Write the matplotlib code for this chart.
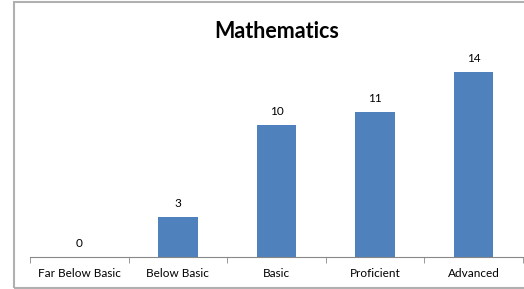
import matplotlib
matplotlib.use("Agg")
import matplotlib.pyplot as plt
from matplotlib.patches import Rectangle
import numpy as np

categories = ["Far Below Basic", "Below Basic", "Basic", "Proficient", "Advanced"]
values = [0, 3, 10, 11, 14]
title = "Mathematics"

plt.rcParams['font.family'] = ['Lato', 'DejaVu Sans']

fig = plt.figure(figsize=(5.24, 2.89), dpi=100)
ax = fig.add_axes([30/524, 32/289, 493/524, 211/289])

x = np.arange(len(categories))
ax.bar(x, values, width=0.4, color="#4F81BD", zorder=2)
for xi, v in zip(x, values):
    ax.annotate(str(v), (xi, v), xytext=(0, 6), textcoords="offset points",
                ha="center", va="bottom", fontsize=8.5, color="black")

ax.set_xlim(-0.5, len(categories) - 0.5)
ax.set_ylim(0, 16)
ax.set_yticks([])
ax.set_xticks(x)
ax.set_xticklabels(categories, fontsize=8.5)
ax.tick_params(axis='x', length=0, pad=8)
ax.set_xticks(np.arange(-0.5, len(categories)), minor=True)
ax.tick_params(axis='x', which='minor', length=4, color="#888888", direction='out')
for s in ["top", "right", "left"]:
    ax.spines[s].set_visible(False)
ax.spines["bottom"].set_color("#888888")
ax.spines["bottom"].set_linewidth(0.8)

fig.text(277/524, 1 - 31/289, title, ha="center", va="center", fontsize=15.5, fontweight="bold")

fig.patches.append(Rectangle((13.5/524, 1/289), 530/524, 286/289, transform=fig.transFigure,
                             fill=False, edgecolor="#B0B0B0", linewidth=1.5))

fig.savefig("out.png", dpi=100)
